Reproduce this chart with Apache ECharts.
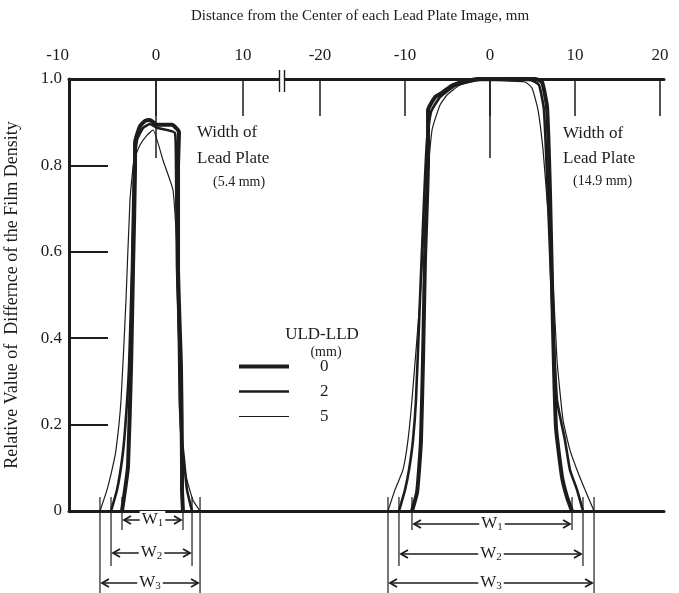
<!DOCTYPE html>
<html>
<head>
<meta charset="utf-8">
<script src="https://cdn.jsdelivr.net/npm/echarts@6/dist/echarts.min.js"></script>
<style>
html,body{margin:0;padding:0;background:#fff}
#main{width:679px;height:593px}
</style>
</head>
<body>
<div id="main"></div>
<script>
var FONT = '"Liberation Serif", "DejaVu Serif", serif';
var INK = '#1c1c1c';

// tick labels
var yTicks = [0, 0.2, 0.4, 0.6, 0.8, 1.0];
var xTicksLeft = [-10, 0, 10];
var xTicksRight = [-20, -10, 0, 10, 20];
var uldNames = ['0', '2', '5'];

// lead plate 5.4 mm : [mm, relative value]
var left0 = [[-3.91,0],[-3.56,0.049],[-3.22,0.102],[-2.87,0.333],[-2.64,0.565],[-2.41,0.796],[-2.41,0.852],[-1.84,0.891],[-1.26,0.903],[-0.69,0.905],[0.11,0.894],[1.84,0.894],[2.64,0.877],[2.53,0.796],[2.53,0.565],[2.87,0.333],[2.99,0.102],[2.99,0.049],[3.10,0]];
var left2 = [[-5.17,0],[-4.48,0.049],[-3.91,0.118],[-3.56,0.188],[-3.10,0.333],[-2.76,0.565],[-2.53,0.796],[-2.18,0.859],[-1.49,0.887],[-0.69,0.896],[0.11,0.887],[2.18,0.875],[2.30,0.796],[2.41,0.565],[2.76,0.333],[2.87,0.188],[3.22,0.118],[3.56,0.049],[4.14,0]];
var left5 = [[-6.44,0],[-5.63,0.049],[-5.06,0.095],[-4.60,0.141],[-4.02,0.257],[-3.45,0.488],[-2.99,0.72],[-2.53,0.812],[-1.84,0.847],[-1.03,0.870],[-0.34,0.882],[0.80,0.812],[1.95,0.743],[2.41,0.604],[2.64,0.257],[2.99,0.141],[3.56,0.072],[4.25,0.025],[5.06,0]];

// lead plate 14.9 mm
var right0 = [[-9.18,0],[-8.59,0.042],[-8.35,0.095],[-8.12,0.164],[-7.88,0.35],[-7.65,0.581],[-7.29,0.812],[-7.29,0.928],[-6.47,0.958],[-5.65,0.968],[-4.35,0.986],[-1.53,1.0],[0,1.0],[5.29,1.0],[6.12,0.993],[6.71,0.935],[7.06,0.736],[7.41,0.426],[7.76,0.194],[8.47,0.079],[9.06,0.032],[9.65,0]];
var right2 = [[-10.71,0],[-10.0,0.049],[-9.53,0.095],[-9.06,0.164],[-8.71,0.257],[-8.24,0.488],[-7.76,0.72],[-7.41,0.859],[-6.94,0.924],[-5.88,0.958],[-4.12,0.984],[-1.18,0.998],[4.71,0.998],[5.76,0.986],[6.35,0.928],[6.82,0.72],[7.29,0.488],[7.88,0.257],[8.82,0.164],[9.41,0.095],[10.24,0.049],[10.94,0]];
var right5 = [[-12.0,0],[-11.18,0.049],[-10.24,0.095],[-9.65,0.164],[-9.18,0.257],[-8.24,0.488],[-7.53,0.72],[-6.82,0.882],[-5.88,0.94],[-5.06,0.963],[-3.53,0.986],[-1.18,0.998],[4.12,0.993],[4.94,0.979],[5.65,0.928],[6.24,0.836],[6.71,0.72],[7.29,0.581],[7.88,0.35],[8.59,0.211],[9.41,0.141],[10.24,0.095],[11.18,0.049],[12.24,0]];

var widths = [4, 2.6, 1.2];

var chart = echarts.init(document.getElementById('main'));

function topAxis(grid, min, max, ticks) {
    return {
        type: 'value', gridIndex: grid, position: 'top', min: min, max: max,
        splitLine: {show: false},
        axisLine: {onZero: false, lineStyle: {color: INK, width: 3}},
        axisTick: {inside: true, length: 37, customValues: ticks, lineStyle: {color: INK, width: 1.5}},
        axisLabel: {customValues: ticks, margin: 15, color: INK, fontFamily: FONT, fontSize: 17, alignMinLabel: grid === 0 ? 'right' : 'center'}
    };
}
function bottomAxis(grid, min, max) {
    return {
        type: 'value', gridIndex: grid, position: 'bottom', min: min, max: max,
        splitLine: {show: false}, axisTick: {show: false}, axisLabel: {show: false},
        axisLine: {onZero: false, lineStyle: {color: INK, width: 3}}
    };
}
function line(name, data, k, xi) {
    return {
        name: name, type: 'line', data: data, xAxisIndex: xi, yAxisIndex: xi,
        symbol: 'none', smooth: 0.15, z: 3 + k,
        lineStyle: {color: INK, width: widths[k]},
        itemStyle: {color: INK}
    };
}
// long tick at each plate centre
function zeroTick() {
    return {
        silent: true, symbol: 'none', label: {show: false},
        lineStyle: {color: INK, width: 1.5, type: 'solid'},
        data: [[{coord: [0, 1]}, {coord: [0, 0.817]}]]
    };
}

var s0 = line(uldNames[0], left0, 0, 0);
s0.markLine = zeroTick();
var s3 = line(uldNames[0], right0, 0, 1);
s3.markLine = zeroTick();

var option = {
    animation: false,
    backgroundColor: '#fff',
    grid: [
        {left: 69, top: 79, width: 213, bottom: 82},
        {left: 282, top: 79, right: 15, bottom: 82}
    ],
    xAxis: [
        topAxis(0, -10, 14.48, xTicksLeft),
        topAxis(1, -24.47, 20.47, xTicksRight),
        bottomAxis(0, -10, 14.48),
        bottomAxis(1, -24.47, 20.47)
    ],
    yAxis: [
        {
            type: 'value', gridIndex: 0, min: 0, max: 1, interval: 0.2,
            name: 'Relative Value of  Differnce of the Film Density',
            nameLocation: 'middle', nameGap: 48,
            nameTextStyle: {color: INK, fontFamily: FONT, fontSize: 18},
            splitLine: {show: false},
            axisLine: {onZero: false, lineStyle: {color: INK, width: 3}},
            axisTick: {inside: true, length: 39, lineStyle: {color: INK, width: 1.8}},
            axisLabel: {
                margin: 7, color: INK, fontFamily: FONT, fontSize: 17,
                formatter: function (v) { return v === 0 ? '0' : v.toFixed(1); }
            }
        },
        {type: 'value', gridIndex: 1, min: 0, max: 1, show: false}
    ],
    legend: {
        data: uldNames, orient: 'vertical', left: 237, top: 358, padding: 0,
        itemWidth: 50, itemHeight: 14, itemGap: 8, selectedMode: false,
        itemStyle: {color: 'transparent', borderColor: 'transparent', borderWidth: 0},
        lineStyle: {width: 'inherit'},
        textStyle: {color: INK, fontFamily: FONT, fontSize: 17, padding: [0, 0, 0, 26]}
    },
    series: [
        s0, line(uldNames[1], left2, 1, 0), line(uldNames[2], left5, 2, 0),
        s3, line(uldNames[1], right2, 1, 1), line(uldNames[2], right5, 2, 1)
    ]
};
chart.setOption(option);

// annotations
function txt(x, y, s, size, align) {
    return {type: 'text', x: x, y: y, z: 20, style: {text: s, fill: INK, font: size + 'px ' + FONT, textAlign: align || 'left', textVerticalAlign: 'middle'}};
}
var g = [
    txt(360, 16, 'Distance from the Center of each Lead Plate Image, mm', 15, 'center'),
    txt(197, 133, 'Width of', 17), txt(197, 159, 'Lead Plate', 17), txt(213, 182, '(5.4 mm)', 14),
    txt(563, 134, 'Width of', 17), txt(563, 159, 'Lead Plate', 17), txt(573, 181, '(14.9 mm)', 14),
    txt(322, 335, 'ULD-LLD', 17, 'center'), txt(326, 352, '(mm)', 14, 'center'),
    // axis break
    {type: 'rect', z: 30, shape: {x: 279.5, y: 70, width: 5, height: 22}, style: {fill: '#fff', stroke: null}},
    {type: 'line', z: 31, shape: {x1: 279.5, y1: 70, x2: 279.5, y2: 92}, style: {stroke: INK, lineWidth: 1.4}},
    {type: 'line', z: 31, shape: {x1: 284.5, y1: 70, x2: 284.5, y2: 92}, style: {stroke: INK, lineWidth: 1.4}}
];

// base widths W1..W3 taken from the ends of each curve
var profiles = [
    {xi: 0, curves: [left0, left2, left5], arrowY: [520, 553, 583]},
    {xi: 1, curves: [right0, right2, right5], arrowY: [524, 554, 583]}
];
var lineEnds = [530, 566, 600];
profiles.forEach(function (p) {
    p.curves.forEach(function (c, k) {
        var a = chart.convertToPixel({xAxisIndex: p.xi, yAxisIndex: p.xi}, c[0])[0];
        var b = chart.convertToPixel({xAxisIndex: p.xi, yAxisIndex: p.xi}, c[c.length - 1])[0];
        var y = p.arrowY[k];
        [a, b].forEach(function (x) {
            g.push({type: 'line', z: 10, shape: {x1: x, y1: 497, x2: x, y2: lineEnds[k]}, style: {stroke: INK, lineWidth: 1.2}});
        });
        g.push({type: 'line', z: 10, shape: {x1: a + 2, y1: y, x2: b - 2, y2: y}, style: {stroke: INK, lineWidth: 1.3}});
        g.push({type: 'polyline', z: 10, shape: {points: [[a + 9, y - 4], [a + 2, y], [a + 9, y + 4]]}, style: {stroke: INK, lineWidth: 1.8, fill: null}});
        g.push({type: 'polyline', z: 10, shape: {points: [[b - 9, y - 4], [b - 2, y], [b - 9, y + 4]]}, style: {stroke: INK, lineWidth: 1.8, fill: null}});
        g.push({
            type: 'text', z: 12, x: (a + b) / 2, y: y,
            style: {
                text: '{w|W}{s|' + (k + 1) + '}', textAlign: 'center', textVerticalAlign: 'middle',
                backgroundColor: '#fff', padding: [0, 2],
                rich: {
                    w: {fontFamily: FONT, fontSize: 17, fill: INK},
                    s: {fontFamily: FONT, fontSize: 11, fill: INK, padding: [7, 0, 0, 0]}
                }
            }
        });
    });
});
chart.setOption({graphic: g});
</script>
</body>
</html>
